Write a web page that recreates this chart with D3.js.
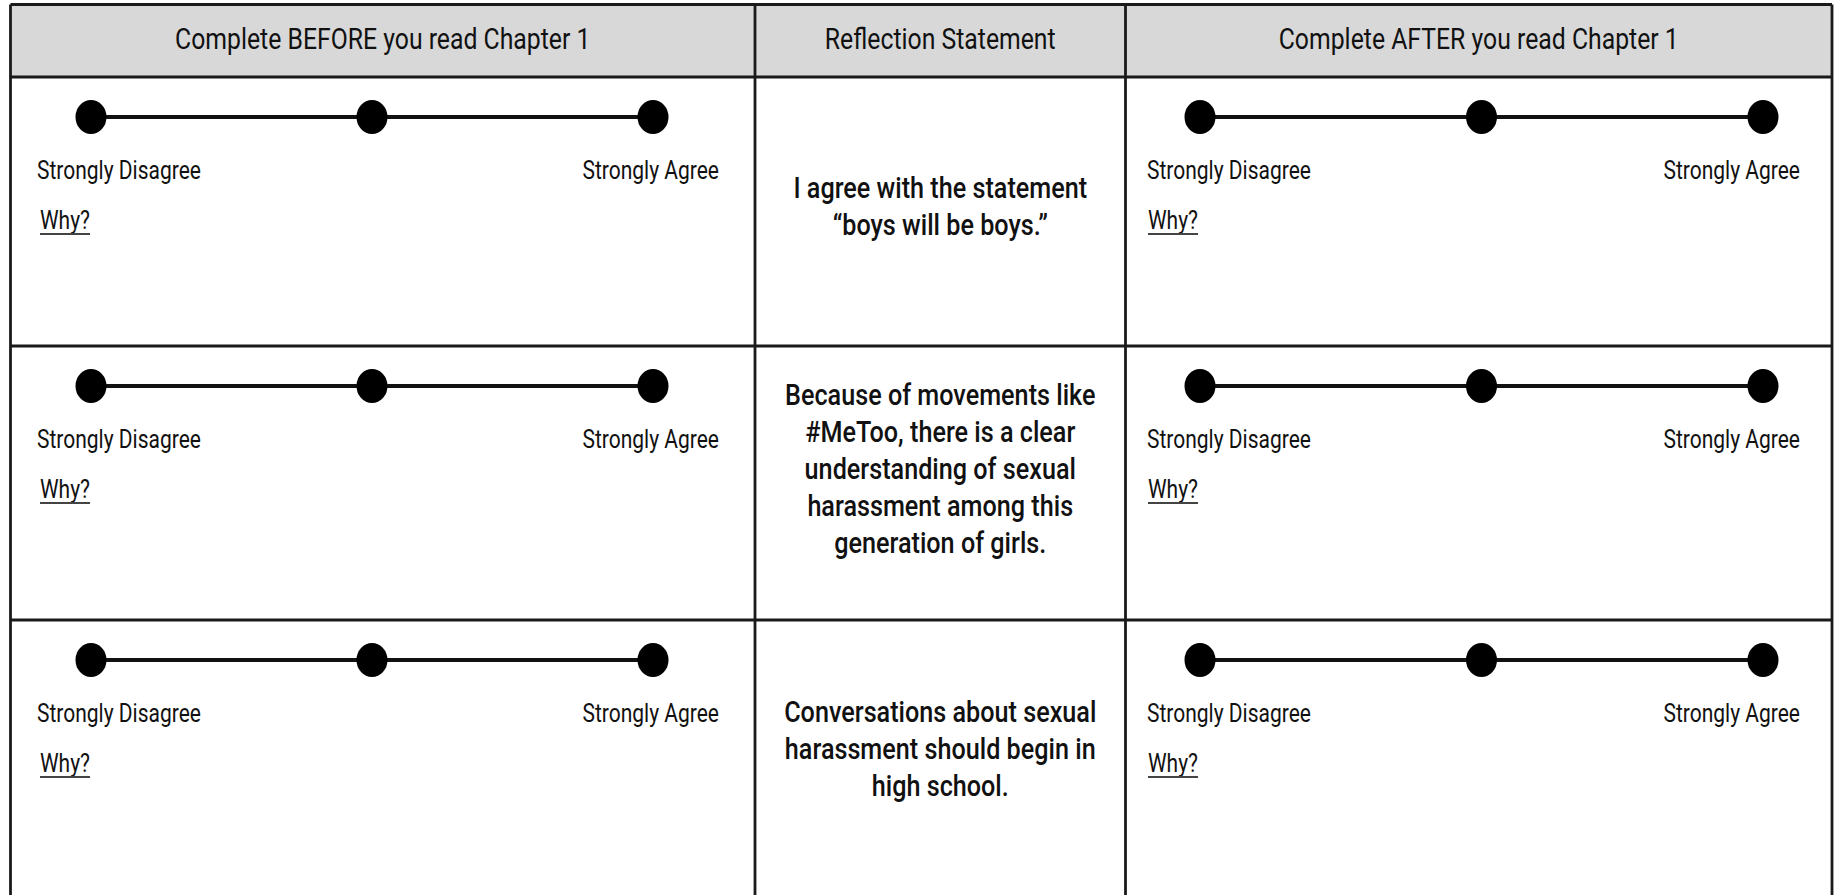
<!DOCTYPE html>
<html><head><meta charset="utf-8">
<script src="https://cdn.jsdelivr.net/npm/d3@7"></script>
<style>
html,body{margin:0;padding:0;background:#fff;}
svg{display:block;}
</style></head>
<body>
<svg id="chart" width="1835" height="895"></svg>
<script>
// ---- data ----
const headers = ["Complete BEFORE you read Chapter 1", "Reflection Statement", "Complete AFTER you read Chapter 1"];
const statements = [
  ["I agree with the statement", "\u201Cboys will be boys.\u201D"],
  ["Because of movements like", "#MeToo, there is a clear", "understanding of sexual", "harassment among this", "generation of girls."],
  ["Conversations about sexual", "harassment should begin in", "high school."]
];
const scalePoints = ["Strongly Disagree", "Neutral", "Strongly Agree"];
const endLabels = ["Strongly Disagree", "Strongly Agree"];
const promptLabel = "Why?";

// ---- layout / style ----
const colEdges = [10.5, 755, 1125.5, 1832];
const rowEdges = [4.5, 77, 346, 620, 920];
const statementNudge = [-6, -15, -9];
const headerFill = "#d8d8d8";
const ink = "#111";
const gridColor = "#1a1a1a";
const condense = 0.84;
const fontFamily = "Roboto, 'Open Sans', sans-serif";
const lineGap = 37;

const svg = d3.select("#chart");

svg.append("rect")
  .attr("x", colEdges[0]).attr("y", rowEdges[0])
  .attr("width", colEdges[3] - colEdges[0])
  .attr("height", rowEdges[1] - rowEdges[0])
  .attr("fill", headerFill);

function ctext(parent, str, x, y, anchor, size, weight) {
  const g = parent.append("g").attr("transform", `translate(${x},${y}) scale(${condense},1)`);
  return g.append("text")
    .attr("text-anchor", anchor)
    .attr("font-family", fontFamily)
    .attr("font-size", size)
    .attr("font-weight", weight)
    .attr("fill", ink)
    .text(str);
}

// headers
const headerY = (rowEdges[0] + rowEdges[1]) / 2;
headers.forEach((h, i) => {
  const cx = (colEdges[i] + colEdges[i + 1]) / 2;
  ctext(svg, h, cx, headerY + 8.5, "middle", 29.5, 400);
});

// likert columns
const likertCols = [
  { col: 0, padL: 80.5, padR: 102, labL: 26.5, labR: 36, why: 29.5 },
  { col: 2, padL: 74.5, padR: 69, labL: 21.5, labR: 32, why: 22.5 }
];

const rows = d3.range(statements.length);

likertCols.forEach(c => {
  const left = colEdges[c.col], right = colEdges[c.col + 1];
  const x = d3.scalePoint().domain(scalePoints).range([left + c.padL, right - c.padR]);
  rows.forEach(r => {
    const top = rowEdges[r + 1];
    const g = svg.append("g");
    const dotY = top + 40;
    g.append("line")
      .attr("x1", x(scalePoints[0])).attr("x2", x(scalePoints[scalePoints.length - 1]))
      .attr("y1", dotY).attr("y2", dotY)
      .attr("stroke", ink).attr("stroke-width", 4);
    g.selectAll("ellipse").data(scalePoints).join("ellipse")
      .attr("cx", d => x(d)).attr("cy", dotY)
      .attr("rx", 15.5).attr("ry", 17)
      .attr("fill", "#000");
    ctext(g, endLabels[0], left + c.labL, top + 102, "start", 25, 400);
    ctext(g, endLabels[1], right - c.labR, top + 102, "end", 25, 400);
    const w = ctext(g, promptLabel, left + c.why, top + 152, "start", 25, 400);
    const ww = w.node().getComputedTextLength() * condense;
    g.append("line")
      .attr("x1", left + c.why).attr("x2", left + c.why + ww)
      .attr("y1", top + 157).attr("y2", top + 157)
      .attr("stroke", "#444").attr("stroke-width", 2);
  });
});

// statements
const midX = (colEdges[1] + colEdges[2]) / 2;
rows.forEach(r => {
  const top = rowEdges[r + 1];
  const bottom = Math.min(rowEdges[r + 2], 895);
  const cy = (top + bottom) / 2 + statementNudge[r];
  const lines = statements[r];
  lines.forEach((ln, k) => {
    const y = cy + (k - (lines.length - 1) / 2) * lineGap;
    ctext(svg, ln, midX, y + 10.5, "middle", 30, 500);
  });
});

// grid
const grid = svg.append("g").attr("stroke", gridColor).attr("stroke-width", 2.8);
colEdges.forEach(x => {
  grid.append("line").attr("x1", x).attr("x2", x).attr("y1", rowEdges[0]).attr("y2", rowEdges[rowEdges.length - 1]);
});
rowEdges.slice(0, rowEdges.length - 1).forEach(y => {
  grid.append("line").attr("x1", colEdges[0]).attr("x2", colEdges[colEdges.length - 1]).attr("y1", y).attr("y2", y);
});
</script>
</body></html>
